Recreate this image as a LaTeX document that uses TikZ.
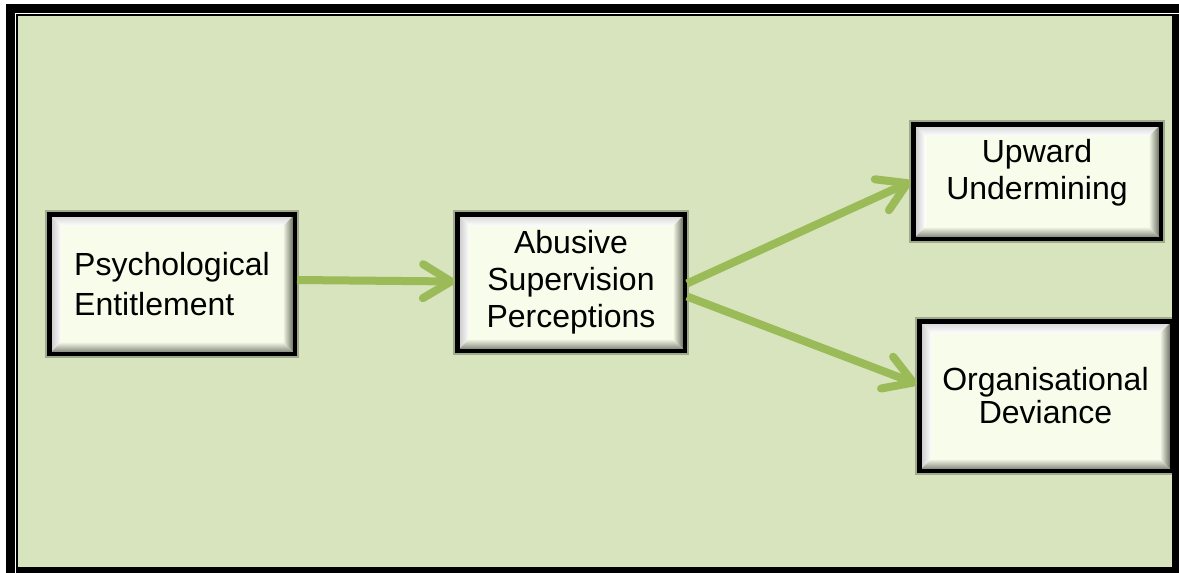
\documentclass[tikz,border=0pt]{standalone}
\usepackage{fontspec}
\setmainfont{Liberation Sans}
\usetikzlibrary{arrows.meta,calc}

\definecolor{pagegreen}{HTML}{D7E4BD}
\definecolor{arrowgreen}{HTML}{9BBB59}
\definecolor{boxcream}{HTML}{F8FCEA}
\definecolor{beveldark}{HTML}{74786A}

% bevelled faces painted inside each stage box
\newcommand\bevelfaces{%
  \path (path picture bounding box.north west) coordinate (q1)
        (path picture bounding box.south east) coordinate (q2);
  \path ($(q1)+(2,2)$) coordinate (o1) ($(q2)+(-2,-2)$) coordinate (o2)
        ($(q1)+(12,12)$) coordinate (i1) ($(q2)+(-12,-12)$) coordinate (i2);
  \shade[top color=gray!30!white, bottom color=white]
    (o1) -- (o1 -| o2) -- (i1 -| i2) -- (i1) -- cycle;
  \shade[left color=gray!40!white, right color=white]
    (o1) -- (i1) -- (i1 |- i2) -- (o1 |- o2) -- cycle;
  \shade[left color=boxcream, right color=beveldark]
    (o1 -| o2) -- (o2) -- (i2) -- (i1 -| i2) -- cycle;
  \shade[top color=boxcream, bottom color=beveldark!85!white]
    (o1 |- o2) -- (o2) -- (i2) -- (i1 |- i2) -- cycle;
}

\tikzset{
  x=1pt, y=-1pt,
  stagebox/.style={draw=black, line width=4.5pt, fill=boxcream, inner sep=0pt,
    font=\fontsize{32}{37}\selectfont, align=center,
    preaction={draw=black, opacity=0.25, line width=8pt},
    path picture={\bevelfaces}},
  link/.style={draw=arrowgreen, line width=8pt, line cap=butt,
    -{Straight Barb[length=28pt,width=34pt,round]},
    preaction={draw=black!60!arrowgreen, opacity=0.35,
      transform canvas={shift={(1.5pt,-2.5pt)}}}},
}

\begin{document}
\begin{tikzpicture}
  \useasboundingbox (0,0) rectangle (1179,573);
  % page border: thick outer band, white rule, thin inner rule
  \fill[white] (-5,-5) rectangle (1185,580);
  \fill[black] (6,4) rectangle (1185,580);
  \fill[white] (15,13) rectangle (1185,14.2);
  \fill[white] (15,13) rectangle (16.2,580);
  \fill[pagegreen] (18,15.5) rectangle (1172,567);

  % stages
  \node[stagebox, align=left, minimum width=245.5pt, minimum height=139.5pt]
    (pe) at (172,284) {Psychological\\[3pt]Entitlement};
  \node[stagebox, minimum width=227.5pt, minimum height=136.5pt]
    (asp) at (571,282.5) {Abusive\\Supervision\\Perceptions};
  \node[stagebox, minimum width=247.5pt, minimum height=114.5pt, text depth=24pt]
    (uu) at (1037,181.5) {Upward\\Undermining};
  \node[stagebox, minimum width=252.5pt, minimum height=149.5pt]
    (od) at (1045.5,396) {Organisational\\[-4pt]Deviance};

  % paths between stages
  \draw[link] ([yshift=4pt]pe.east) -- ([yshift=1pt]asp.west);
  \draw[link] ([yshift=-1pt]asp.east) -- (uu.west);
  \draw[link] ([yshift=-14pt]asp.east) -- ([yshift=12pt]od.west);
\end{tikzpicture}
\end{document}
